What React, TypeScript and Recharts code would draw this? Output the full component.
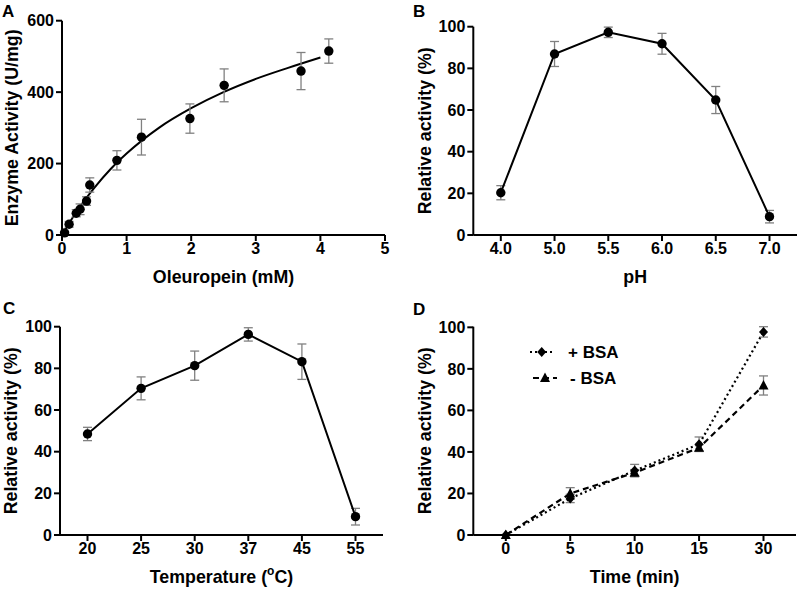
import { ComposedChart, Line, Scatter, XAxis, YAxis, ErrorBar } from "recharts";

// ---- data ----
// A: kinetics
const substrateMM = [0.04, 0.11, 0.22, 0.28, 0.38, 0.43, 0.85, 1.23, 1.98, 2.51, 3.7, 4.13];
const activityUmg = [6, 30, 61, 72, 95, 140, 209, 274, 326, 419, 459, 515];
const activityErr = [4, 8, 10, 15, 12, 20, 27, 50, 41, 46, 52, 34];
const fitX = [0, 0.25, 0.5, 0.75, 1, 1.5, 2, 2.5, 3, 3.5, 4];
const fitY = [0, 72, 132, 184, 228, 300, 355, 400, 437, 468, 497];

// B: pH
const phLabels = ["4.0", "5.0", "5.5", "6.0", "6.5", "7.0"];
const phActivity = [20.3, 86.9, 97.3, 91.8, 64.8, 8.8];
const phErr = [3.4, 6, 2.5, 5, 6.5, 3];

// C: temperature
const tempLabels = ["20", "25", "30", "37", "45", "55"];
const tempActivity = [48.5, 70.4, 81.3, 96.3, 83.2, 8.8];
const tempErr = [3.2, 5.5, 7, 3.2, 8.5, 4];

// D: time, with / without BSA
const timeLabels = ["0", "5", "10", "15", "30"];
const withBsa = [0, 17.6, 31, 43.7, 97.8];
const withBsaErr = [0, 2, 3, 3.5, 2.5];
const withoutBsa = [0, 20, 30, 42, 72];
const withoutBsaErr = [0, 2.8, 1.5, 1.5, 4.6];

const pctTicks = [0, 20, 40, 60, 80, 100];

const scatterA = substrateMM.map((x, i) => ({ x, y: activityUmg[i], e: activityErr[i] }));
const curveA = fitX.map((x, i) => ({ x, y: fitY[i] }));
const phData = phLabels.map((label, i) => ({ label, v: phActivity[i], e: phErr[i] }));
const tempData = tempLabels.map((label, i) => ({ label, v: tempActivity[i], e: tempErr[i] }));
const timeData = timeLabels.map((label, i) => ({
  label,
  plus: withBsa[i],
  plusErr: withBsaErr[i],
  minus: withoutBsa[i],
  minusErr: withoutBsaErr[i],
}));

const FONT = '"Liberation Sans", Arial, Helvetica, sans-serif';
const tickStyle = { fill: "#000", fontSize: 16, fontWeight: 700, fontFamily: FONT };
const axisStroke = { stroke: "#000", strokeWidth: 2 };
const titleStyle: any = { fill: "#000", fontSize: 17.8, fontWeight: 700, fontFamily: FONT, textAnchor: "middle" };
const errColor = "#808080";

const yTitle = (value: string, offset: number) => ({
  value,
  angle: -90,
  position: "insideLeft" as const,
  offset,
  style: titleStyle,
});
const xTitle = (value: string) => ({ value, position: "insideBottom" as const, offset: 7, style: titleStyle });

const TempTitle = (props: any) => {
  const { x, y, width, height } = props.viewBox;
  return (
    <text x={x + width / 2} y={y + height - 7} textAnchor="middle" style={titleStyle}>
      Temperature (<tspan fontSize={12} dy={-8}>o</tspan>
      <tspan dy={8}>C)</tspan>
    </text>
  );
};

const Dot = (p: any) => <circle key={p.index} cx={p.cx} cy={p.cy} r={4.7} fill="#000" />;
const Diamond = (p: any) => (
  <path
    key={p.index}
    d={`M${p.cx},${p.cy - 5} L${p.cx + 4.5},${p.cy} L${p.cx},${p.cy + 5} L${p.cx - 4.5},${p.cy} Z`}
    fill="#000"
  />
);
const Triangle = (p: any) => (
  <path key={p.index} d={`M${p.cx},${p.cy - 5.5} L${p.cx + 5},${p.cy + 4} L${p.cx - 5},${p.cy + 4} Z`} fill="#000" />
);

const PanelA = () => (
  <ComposedChart width={400} height={290} margin={{ top: 20.7, right: 15, bottom: 0, left: 0 }}>
    <XAxis
      type="number"
      dataKey="x"
      domain={[0, 5]}
      ticks={[0, 1, 2, 3, 4, 5]}
      height={55}
      tick={tickStyle}
      axisLine={axisStroke}
      tickLine={axisStroke}
      label={xTitle("Oleuropein (mM)")}
    />
    <YAxis
      type="number"
      domain={[0, 600]}
      ticks={[0, 200, 400, 600]}
      width={62}
      tick={tickStyle}
      axisLine={axisStroke}
      tickLine={axisStroke}
      label={yTitle("Enzyme Activity (U/mg)", 12)}
    />
    <Line data={curveA} dataKey="y" type="monotone" stroke="#000" strokeWidth={2} dot={false} isAnimationActive={false} />
    <Scatter data={scatterA} dataKey="y" shape={Dot} isAnimationActive={false}>
      <ErrorBar dataKey="e" direction="y" width={4.5} stroke={errColor} strokeWidth={1.3} />
    </Scatter>
  </ComposedChart>
);

const PanelCat = ({ data, title, yOffset, left, right, top, tempTitle }: any) => (
  <ComposedChart width={400} height={top > 30 ? 300 : 290} data={data} margin={{ top, right, bottom: 0, left: 0 }}>
    <XAxis
      dataKey="label"
      padding={{ left: 27.5, right: 27.5 }}
      height={55}
      tick={tickStyle}
      axisLine={axisStroke}
      tickLine={axisStroke}
      label={tempTitle ? { content: TempTitle } : xTitle(title)}
    />
    <YAxis
      type="number"
      domain={[0, 100]}
      ticks={pctTicks}
      width={left}
      tick={tickStyle}
      axisLine={axisStroke}
      tickLine={axisStroke}
      label={yTitle("Relative activity (%)", yOffset)}
    />
    <Line dataKey="v" stroke="#000" strokeWidth={2} dot={Dot} isAnimationActive={false}>
      <ErrorBar dataKey="e" direction="y" width={4.5} stroke={errColor} strokeWidth={1.3} />
    </Line>
  </ComposedChart>
);

const PanelD = () => (
  <ComposedChart width={399} height={300} data={timeData} margin={{ top: 36.7, right: 3, bottom: 0, left: 0 }}>
    <XAxis
      dataKey="label"
      padding={{ left: 32.5, right: 32.5 }}
      height={55}
      tick={tickStyle}
      axisLine={axisStroke}
      tickLine={axisStroke}
      label={xTitle("Time (min)")}
    />
    <YAxis
      type="number"
      domain={[0, 100]}
      ticks={pctTicks}
      width={73.3}
      tick={tickStyle}
      axisLine={axisStroke}
      tickLine={axisStroke}
      label={yTitle("Relative activity (%)", 25)}
    />
    <Line dataKey="minus" stroke="#000" strokeWidth={2.2} strokeDasharray="6 4" dot={Triangle} isAnimationActive={false}>
      <ErrorBar dataKey="minusErr" direction="y" width={4.5} stroke={errColor} strokeWidth={1.3} />
    </Line>
    <Line dataKey="plus" stroke="#000" strokeWidth={2.2} strokeDasharray="2 3" dot={Diamond} isAnimationActive={false}>
      <ErrorBar dataKey="plusErr" direction="y" width={4.5} stroke={errColor} strokeWidth={1.3} />
    </Line>
  </ComposedChart>
);

const letter = (text: string, left: number, top: number) => (
  <div
    style={{
      position: "absolute",
      left,
      top,
      fontFamily: FONT,
      fontWeight: 700,
      fontSize: 17,
      lineHeight: 1,
      color: "#000",
    }}
  >
    {text}
  </div>
);

export default function App() {
  return (
    <div style={{ position: "absolute", left: 0, top: 0, width: 799, height: 590, background: "#fff" }}>
      <div style={{ position: "absolute", left: 0, top: 0 }}>
        <PanelA />
      </div>
      <div style={{ position: "absolute", left: 400, top: 0 }}>
        <PanelCat data={phData} title="pH" yOffset={25} left={73.3} right={3} top={26.7} />
      </div>
      <div style={{ position: "absolute", left: 0, top: 290 }}>
        <PanelCat data={tempData} yOffset={11} left={60} right={17} top={36.7} tempTitle />
      </div>
      <div style={{ position: "absolute", left: 400, top: 290 }}>
        <PanelD />
      </div>

      {/* legend of panel D */}
      <svg style={{ position: "absolute", left: 525, top: 340 }} width={100} height={50}>
        <line x1={5} y1={12} x2={27} y2={12} stroke="#000" strokeWidth={2.2} strokeDasharray="2 3" />
        <Diamond cx={16.7} cy={12} />
        <text x={43} y={18} style={{ fontFamily: FONT, fontWeight: 700, fontSize: 17 }}>
          + BSA
        </text>
        <line x1={8} y1={38} x2={32} y2={38} stroke="#000" strokeWidth={2.2} strokeDasharray="6 4" />
        <Triangle cx={20} cy={38} />
        <text x={45} y={44} style={{ fontFamily: FONT, fontWeight: 700, fontSize: 17 }}>
          - BSA
        </text>
      </svg>

      {letter("A", 2, 2.8)}
      {letter("B", 413, 2.8)}
      {letter("C", 3, 299.5)}
      {letter("D", 413, 300.8)}
    </div>
  );
}
